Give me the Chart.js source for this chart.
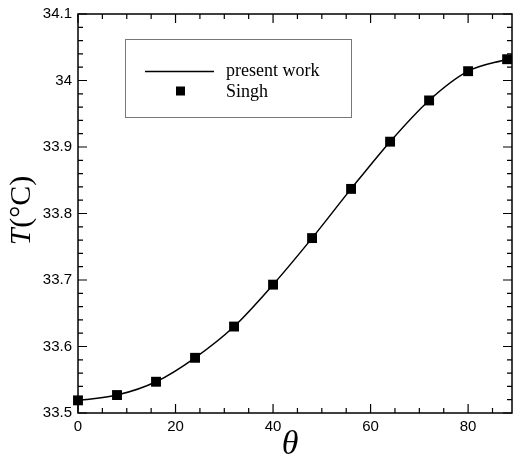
<!DOCTYPE html>
<html>
<head>
<meta charset="utf-8">
<script src="https://cdn.jsdelivr.net/npm/chart.js@4.4.1/dist/chart.umd.min.js"></script>
<style>
  html, body { margin: 0; padding: 0; background: #fff; overflow: hidden; }
  #wrap { width: 513px; height: 466px; position: relative; }
  canvas { display: block; }
</style>
</head>
<body>
<div id="wrap"><canvas id="c"></canvas></div>
<script>
// angle values (deg) and temperatures
const theta = [0, 8, 16, 24, 32, 40, 48, 56, 64, 72, 80, 88];
const presentWork = [33.519, 33.527, 33.547, 33.583, 33.630, 33.693, 33.763, 33.837, 33.908, 33.970, 34.014, 34.032];
const singh = [33.519, 33.527, 33.547, 33.583, 33.630, 33.693, 33.763, 33.837, 33.908, 33.970, 34.014, 34.032];
const seriesNames = ['present work', 'Singh'];
const xTickLabels = [0, 20, 40, 60, 80];
const yTickLabels = ['33.5', '33.6', '33.7', '33.8', '33.9', '34', '34.1'];

const toXY = (xs, ys) => xs.map((x, i) => ({ x: x, y: ys[i] }));

// inward ticks on all four sides, the frame, x labels, titles and legend
const frameTicks = {
  id: 'frameTicks',
  afterDraw(chart) {
    const ctx = chart.ctx;
    const a = chart.chartArea;
    const xs = chart.scales.x, ys = chart.scales.y;
    ctx.save();
    ctx.strokeStyle = '#000';
    ctx.lineWidth = 1.5;
    ctx.strokeRect(a.left, a.top, a.right - a.left, a.bottom - a.top);
    ctx.lineWidth = 1.2;
    ctx.beginPath();
    for (let v = 0; v <= 89; v += 5) {
      const px = xs.getPixelForValue(v);
      const len = v % 20 === 0 ? 9 : 5;
      ctx.moveTo(px, a.bottom); ctx.lineTo(px, a.bottom - len);
      ctx.moveTo(px, a.top); ctx.lineTo(px, a.top + len);
    }
    for (let k = 0; k <= 30; k++) {
      const v = 33.5 + k * 0.02;
      const py = ys.getPixelForValue(v);
      const len = k % 5 === 0 ? 9 : 5;
      ctx.moveTo(a.left, py); ctx.lineTo(a.left + len, py);
      ctx.moveTo(a.right, py); ctx.lineTo(a.right - len, py);
    }
    ctx.stroke();

    ctx.fillStyle = '#000';
    ctx.font = '15px "Liberation Sans", Arial, sans-serif';
    ctx.textAlign = 'center';
    ctx.textBaseline = 'top';
    xTickLabels.forEach(v => {
      ctx.fillText(String(v), xs.getPixelForValue(v), a.bottom + 6);
    });

    // axis titles
    ctx.textBaseline = 'middle';
    ctx.font = 'italic 34px "Liberation Serif", "DejaVu Serif", serif';
    ctx.textAlign = 'center';
    ctx.fillText('\u03B8', 290, 445);

    ctx.save();
    ctx.translate(22, 211);
    ctx.rotate(-Math.PI / 2);
    ctx.textAlign = 'left';
    ctx.font = 'italic 30px "Liberation Serif", serif';
    const w1 = ctx.measureText('T').width;
    ctx.font = '30px "Liberation Serif", serif';
    const w2 = ctx.measureText('(\u00B0C)').width;
    const start = -(w1 + w2) / 2;
    ctx.font = 'italic 30px "Liberation Serif", serif';
    ctx.fillText('T', start, 0);
    ctx.font = '30px "Liberation Serif", serif';
    ctx.fillText('(\u00B0C)', start + w1 + 1, 0);
    ctx.restore();

    // legend box
    ctx.strokeStyle = '#777';
    ctx.lineWidth = 1;
    ctx.strokeRect(125.5, 39.5, 226, 78);
    ctx.strokeStyle = '#000';
    ctx.lineWidth = 1.5;
    ctx.beginPath();
    ctx.moveTo(145, 71.5); ctx.lineTo(214, 71.5);
    ctx.stroke();
    ctx.fillRect(176, 86.5, 9, 9);
    ctx.font = '18px "Liberation Serif", serif';
    ctx.textAlign = 'left';
    ctx.textBaseline = 'alphabetic';
    ctx.fillText(seriesNames[0], 226, 76);
    ctx.fillText(seriesNames[1], 226, 97);
    ctx.restore();
  }
};

new Chart(document.getElementById('c'), {
  type: 'line',
  data: {
    datasets: [{
      label: seriesNames[0],
      data: toXY(theta, presentWork),
      borderColor: '#000',
      borderWidth: 1.5,
      pointRadius: 0,
      cubicInterpolationMode: 'monotone',
      fill: false
    }, {
      label: seriesNames[1],
      data: toXY(theta, singh),
      showLine: false,
      pointStyle: 'rect',
      pointRadius: 7,
      pointBackgroundColor: '#000',
      pointBorderColor: '#000',
      pointBorderWidth: 0,
      clip: false
    }]
  },
  options: {
    responsive: true,
    maintainAspectRatio: false,
    animation: false,
    layout: { autoPadding: false, padding: { top: 14, right: 1, left: 0, bottom: 0 } },
    plugins: {
      legend: { display: false },
      tooltip: { enabled: false }
    },
    scales: {
      x: {
        type: 'linear',
        min: 0,
        max: 89,
        afterFit(scale) { scale.height = 53; },
        grid: { display: false, drawTicks: false },
        border: { display: false },
        ticks: { display: false }
      },
      y: {
        type: 'linear',
        min: 33.5,
        max: 34.1,
        afterFit(scale) {
          scale.width = 78;
          scale.paddingTop = 0;
          scale.paddingBottom = 0;
        },
        afterBuildTicks(scale) {
          scale.ticks = yTickLabels.map(s => ({ value: parseFloat(s) }));
        },
        grid: { display: false, drawTicks: false },
        border: { display: false },
        ticks: {
          padding: 6,
          color: '#000',
          font: { family: '"Liberation Sans", Arial, sans-serif', size: 15 },
          callback: (v) => yTickLabels.find(s => Math.abs(parseFloat(s) - v) < 1e-6) || ''
        }
      }
    }
  },
  plugins: [frameTicks]
});
</script>
</body>
</html>
